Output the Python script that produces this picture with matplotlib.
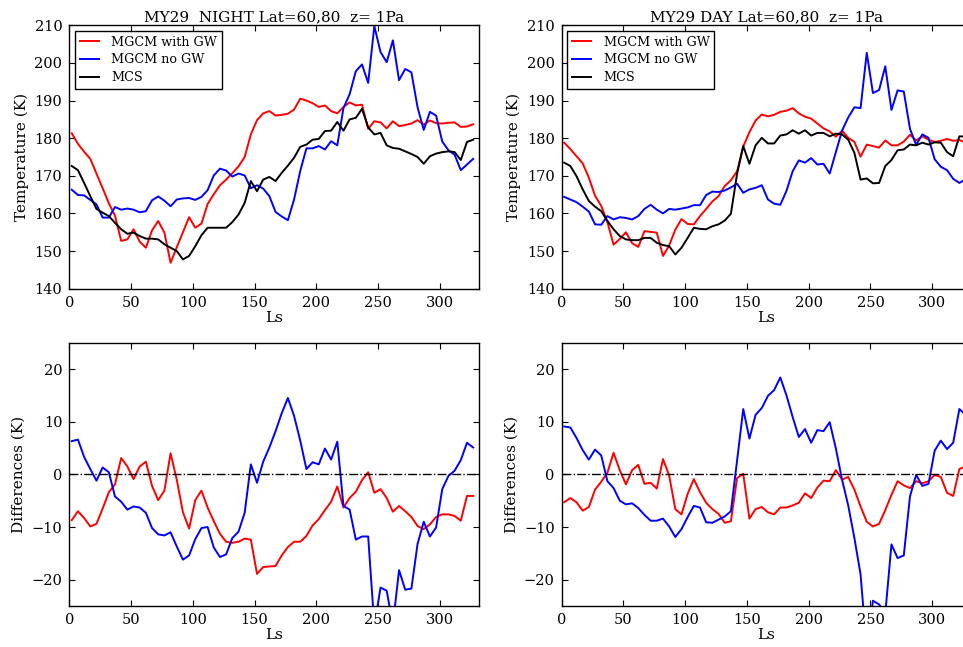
import matplotlib
matplotlib.use("Agg")
import matplotlib.pyplot as plt
import numpy as np

plt.rcParams['font.family'] = ['DejaVu Serif']
plt.rcParams['axes.unicode_minus'] = True

ls = list(range(2, 330, 5))

mcs_night = [172.6,171.5,168.1,164.6,161.2,160.2,159.3,157.5,155.8,154.6,
             154.9,154.0,153.3,153.3,153.1,151.8,150.9,150.0,147.8,148.7,
             151.3,154.2,156.2,156.2,156.2,156.2,157.7,159.7,162.8,168.6,
             165.9,169.0,169.7,168.6,170.8,172.7,174.8,177.7,178.3,179.6,
             179.8,181.9,182.0,184.3,182.0,185.0,185.4,187.8,182.9,181.0,
             181.4,178.1,177.4,177.2,176.5,175.8,175.0,173.2,175.2,175.9,
             176.3,176.5,176.3,174.2,179.0,179.6]
gw_night = [181.3,178.5,176.4,174.5,170.6,166.7,162.7,159.4,152.7,153.1,
            155.8,152.5,150.9,155.5,158.0,154.9,146.9,151.0,155.0,159.0,
            156.2,157.3,162.5,165.1,167.5,169.0,170.7,172.5,175.0,181.0,
            184.8,186.6,187.2,186.0,186.2,186.5,187.6,190.5,190.0,189.3,
            188.3,188.7,187.2,186.6,188.3,189.5,188.7,188.9,182.5,184.5,
            184.2,182.6,184.5,183.2,183.5,183.9,184.8,183.6,184.7,184.0,
            183.9,184.1,184.2,183.0,183.1,183.7]
nogw_night = [166.3,164.9,164.8,163.6,162.4,158.9,158.9,161.7,161.0,161.3,
              161.0,160.3,160.6,163.5,164.5,163.4,161.9,163.7,164.0,164.1,
              163.6,164.4,166.2,170.1,171.9,171.4,169.8,170.6,170.1,166.7,
              167.5,166.6,164.6,160.4,159.2,158.2,163.7,171.3,177.3,177.3,
              177.9,177.0,179.2,178.1,188.0,191.7,197.8,199.6,194.7,209.8,
              202.9,200.2,206.0,195.4,198.4,197.5,188.2,182.2,187.0,186.0,
              179.1,176.8,175.6,171.5,173.0,174.5]

mcs_day = [173.5,172.6,169.9,166.4,163.3,161.8,160.6,158.0,155.8,154.0,
           153.1,152.9,152.9,153.5,153.5,152.2,151.6,151.3,149.1,150.9,
           153.5,156.2,155.9,155.8,156.6,157.1,158.1,159.9,170.5,177.9,
           173.2,178.1,180.1,178.6,178.6,180.7,181.0,182.1,181.2,182.1,
           180.7,181.4,181.4,180.5,181.2,181.0,179.6,176.1,169.0,169.3,
           168.0,168.1,172.6,174.2,176.8,177.0,178.3,178.1,178.8,178.3,
           178.9,178.8,176.3,175.2,180.5,180.4]
gw_day = [178.8,177.1,175.2,173.3,169.5,164.7,162.0,157.7,151.7,153.2,
          155.0,152.1,151.1,155.3,155.1,154.9,148.7,151.5,155.7,158.5,
          157.2,157.1,159.3,161.2,163.2,164.6,167.3,168.8,171.2,177.8,
          181.6,184.7,186.3,185.8,186.2,187.0,187.3,188.0,186.6,185.7,
          185.2,183.9,182.6,181.8,180.4,182.0,180.1,179.0,175.1,178.3,
          177.9,177.5,179.4,178.1,178.1,179.1,180.9,179.4,180.5,179.6,
          179.0,179.3,179.8,179.3,179.5,178.9]
nogw_day = [164.4,163.7,163.0,161.8,160.5,157.1,157.0,159.3,158.4,159.0,
            158.8,158.4,159.3,161.2,162.3,161.0,160.0,161.2,161.0,161.3,
            161.6,162.2,162.2,164.9,165.8,165.7,166.1,166.9,167.9,165.5,
            166.4,166.8,167.5,163.7,162.6,162.3,166.0,171.2,174.1,173.5,
            174.7,173.0,173.2,170.6,176.3,182.0,185.5,188.2,188.0,202.7,
            192.0,192.8,199.1,187.5,192.7,192.4,182.5,178.2,181.0,180.1,
            174.4,172.4,171.5,169.2,168.1,169.1]

titles = ["MY29  NIGHT Lat=60,80  z= 1Pa", "MY29 DAY Lat=60,80  z= 1Pa"]
labels = ["MGCM with GW", "MGCM no GW", "MCS"]
temp_ticks = [140, 150, 160, 170, 180, 190, 200, 210]
diff_ticks = [-20, -10, 0, 10, 20]
x_ticks = [0, 50, 100, 150, 200, 250, 300]

W, H = 963, 647
fig = plt.figure(figsize=(W / 100, H / 100), dpi=100)

def ax_at(x0, y0, x1, y1):
    return fig.add_axes([x0 / W, 1 - y1 / H, (x1 - x0) / W, (y1 - y0) / H])

lefts = [69.3, 561.7]
width = 409.4
top_axes = [ax_at(l, 25.3, l + width, 288.7) for l in lefts]
bot_axes = [ax_at(l, 342.7, l + width, 606.0) for l in lefts]

data = [(mcs_night, gw_night, nogw_night), (mcs_day, gw_day, nogw_day)]

def style(ax):
    ax.tick_params(direction='in', top=True, right=True, labelsize=10.5,
                   length=4, width=0.8, pad=5)
    for s in ax.spines.values():
        s.set_linewidth(1.0)
    ax.set_xlim(0, 331.5)
    ax.set_xticks(x_ticks)
    ax.set_xlabel("Ls", fontsize=11, labelpad=1)

for i in range(2):
    mcs, gw, nogw = [np.array(a) for a in data[i]]
    ax = top_axes[i]
    ax.plot(ls, gw, color='red', lw=1.4, label=labels[0])
    ax.plot(ls, nogw, color='blue', lw=1.4, label=labels[1])
    ax.plot(ls, mcs, color='black', lw=1.4, label=labels[2])
    ax.set_ylim(140, 210)
    ax.set_yticks(temp_ticks)
    ax.set_title(titles[i], fontsize=11, pad=3)
    ax.set_ylabel("Temperature (K)", fontsize=11, labelpad=4)
    style(ax)
    leg = ax.legend(loc='upper left', fontsize=9.2, fancybox=False,
                    framealpha=1, edgecolor='black', borderaxespad=0.45,
                    borderpad=0.35, handlelength=1.5, labelspacing=0.38,
                    handletextpad=1.0)
    leg.get_frame().set_linewidth(1.0)

    axb = bot_axes[i]
    axb.plot(ls, mcs - gw, color='red', lw=1.4)
    axb.plot(ls, mcs - nogw, color='blue', lw=1.4)
    axb.axhline(0, color='black', lw=1.0, ls='-.')
    axb.set_ylim(-25, 25)
    axb.set_yticks(diff_ticks)
    axb.set_ylabel("Differences (K)", fontsize=11, labelpad=4)
    style(axb)

fig.savefig("out.png", dpi=100)
